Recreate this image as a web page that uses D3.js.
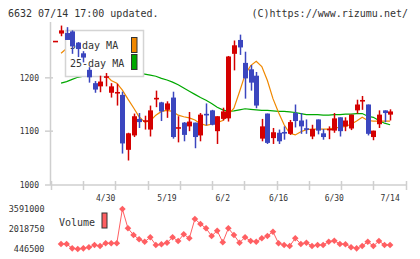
<!DOCTYPE html>
<html>
<head>
<meta charset="utf-8">
<script src="https://cdn.jsdelivr.net/npm/d3@7"></script>
<style>
  body { margin: 0; background: #fff; }
  svg { display: block; font-family: "DejaVu Sans Mono", monospace; }
</style>
</head>
<body>
<div id="chart"></div>
<script>
// trading days, first one is the cut-off doji at the left edge
const dates = ["4/16","4/17","4/18","4/21","4/22","4/23","4/24","4/25","4/28","4/30",
  "5/1","5/2","5/7","5/8","5/9","5/12","5/13","5/14","5/15","5/16",
  "5/19","5/20","5/21","5/22","5/23","5/26","5/27","5/28","5/29","5/30",
  "6/2","6/3","6/4","6/5","6/6","6/9","6/10","6/11","6/12","6/13",
  "6/16","6/17","6/18","6/19","6/20","6/23","6/24","6/25","6/26","6/27",
  "6/30","7/1","7/2","7/3","7/4","7/7","7/8","7/9","7/10","7/11","7/14"];
const open = [1268,1283,1284,1287,1266,1246,1215,1190,1184,1200,1172,1171,1168,1065,1092,1123,1118,1103,1160,1154,
  1140,1163,1105,1116,1109,1116,1092,1131,1139,1100,1123,1124,1245,1271,1228,1216,1204,1086,1133,1087,
  1097,1097,1095,1134,1120,1104,1090,1122,1096,1102,1101,1126,1109,1105,1139,1156,1150,1089,1113,1139,1131];
const high = [1268,1298,1295,1289,1267,1250,1220,1194,1204,1209,1190,1189,1174,1097,1133,1134,1129,1148,1176,1155,
  1156,1174,1128,1117,1136,1116,1134,1152,1140,1128,1144,1241,1270,1281,1249,1224,1211,1123,1133,1106,
  1103,1109,1121,1150,1134,1122,1112,1122,1104,1109,1134,1126,1126,1131,1159,1166,1150,1101,1139,1139,1141];
const low = [1268,1278,1271,1245,1239,1229,1191,1172,1173,1184,1163,1148,1058,1045,1089,1106,1103,1090,1145,1119,
  1125,1086,1079,1081,1100,1068,1081,1111,1111,1076,1120,1118,1214,1243,1161,1176,1143,1081,1076,1076,
  1076,1084,1093,1107,1095,1095,1085,1094,1084,1085,1097,1090,1100,1102,1133,1140,1092,1083,1106,1117,1120];
const close = [1268,1289,1271,1259,1254,1238,1201,1178,1193,1203,1184,1172,1077,1096,1128,1117,1119,1139,1161,1137,
  1152,1089,1106,1093,1118,1089,1131,1130,1112,1128,1137,1240,1261,1257,1199,1191,1148,1109,1078,1098,
  1081,1096,1117,1119,1109,1103,1104,1101,1089,1103,1124,1100,1120,1131,1150,1157,1095,1101,1131,1134,1137];
const ma5 = [null,1246,1255,1264,1266,1262,1246,1230,1216,1206,1195,1190,1177,1160,1144,1127,1117,1119,1130,1137,
  1139,1137,1130,1127,1125,1121,1114,1111,1113,1116,1120,1131,1143,1174,1206,1223,1231,1221,1195,1161,
  1135,1112,1096,1093,1099,1103,1104,1104,1104,1104,1106,1107,1109,1113,1119,1126,1120,1119,1119,1119,1119];
const ma25 = [null,1190,1193,1197,1201,1203,1203,1204,1205,1206,1207,1208,1209,1209,1209,1209,1207,1205,1203,1199,
  1196,1192,1187,1181,1175,1169,1163,1158,1152,1145,1140,1137,1138,1140,1142,1141,1140,1139,1139,1138,
  1137,1137,1136,1135,1133,1131,1131,1131,1130,1130,1131,1131,1132,1132,1133,1133,1128,1126,1120,1115,1112];
// volume in thousands of shares
const volume = [null,840,840,500,446.5,500,580,760,680,895,895,895,3591,2074,1547,1209,1020,1366,760,816,
  942,1366,1075,1602,1288,2805,2412,2074,1468,1885,973,2074,1547,942,1366,1075,1020,1288,1468,1806,
  895,760,680,1288,840,942,680,760,760,1020,1099,840,816,580,500,680,1020,680,1075,760,760];
const priceTicks = [1000, 1100, 1200];
const volTicks = [446500, 2018750, 3591000];
const dateLabels = ["4/30","5/19","6/2","6/16","6/30","7/14"];

const W = 420, H = 259;
const svg = d3.select("#chart").append("svg").attr("width", W).attr("height", H);
const grey = "#cfcfcf", ink = "#333";
const upCol = "#d40000", downCol = "#3b46bf";

const data = dates.map((d, i) => ({ i, d, o: open[i], h: high[i], l: low[i], c: close[i],
  m5: ma5[i], m25: ma25[i], v: volume[i] }));

// header
svg.append("text").attr("x", 8).attr("y", 17).attr("font-size", 10).attr("fill", ink)
  .text("6632 07/14 17:00 updated.");
svg.append("text").attr("x", 408).attr("y", 17).attr("font-size", 10).attr("fill", ink)
  .attr("text-anchor", "end").text("(C)https://www.rizumu.net/");

// scales
const x = d3.scaleLinear().domain([-0.8, 62.8]).range([51, 405.7]);
const y = d3.scaleLinear().domain([1000, 1300]).range([184.5, 24.5]);
const yv = d3.scaleLinear().domain([446500, 3591000]).range([249, 209]);

// axes (light grey frame + ticks)
svg.append("line").attr("x1", 50.5).attr("x2", 50.5).attr("y1", 22).attr("y2", 185)
  .attr("stroke", grey).attr("stroke-width", 1.5);
svg.append("line").attr("x1", 45).attr("x2", 406).attr("y1", 185).attr("y2", 185)
  .attr("stroke", grey).attr("stroke-width", 1.5);
const xTickPos = d3.range(12).map(k => 51 + k * (405.7 - 51) / 11);
svg.append("g").selectAll("line").data(xTickPos).join("line")
  .attr("x1", d => Math.round(d) + 0.5).attr("x2", d => Math.round(d) + 0.5)
  .attr("y1", 181).attr("y2", 190).attr("stroke", grey).attr("stroke-width", 1.5);
svg.append("g").selectAll("line").data(priceTicks.slice(1)).join("line")
  .attr("x1", 45).attr("x2", 53).attr("y1", d => y(d)).attr("y2", d => y(d))
  .attr("stroke", grey).attr("stroke-width", 1.5);
svg.append("g").selectAll("text").data(priceTicks).join("text")
  .attr("x", 39).attr("y", d => y(d) + 3).attr("text-anchor", "end")
  .attr("font-size", 8).attr("fill", ink).text(d => d);

// date labels
svg.append("g").selectAll("text").data(dateLabels).join("text")
  .attr("x", d => x(dates.indexOf(d))).attr("y", 201).attr("text-anchor", "middle")
  .attr("font-size", 8).attr("fill", ink).text(d => d);

// moving averages
const maLine = key => d3.line().defined(d => d[key] != null).x(d => x(d.i)).y(d => y(d[key]));
svg.append("path").datum(data).attr("fill", "none").attr("stroke", "#00a800")
  .attr("stroke-width", 1.2).attr("d", maLine("m25"));
svg.append("path").datum(data).attr("fill", "none").attr("stroke", "#f08800")
  .attr("stroke-width", 1.2).attr("d", maLine("m5"));

// legend box (covers the lines, candles go on top of it)
const lg = svg.append("g");
lg.append("rect").attr("x", 65.5).attr("y", 30.5).attr("width", 78).attr("height", 46)
  .attr("fill", "#fff").attr("stroke", "#d4d4d4").attr("stroke-width", 1.5);
lg.append("text").attr("x", 70).attr("y", 49).attr("font-size", 10).attr("fill", ink).text("5-day MA");
lg.append("text").attr("x", 70).attr("y", 67).attr("font-size", 10).attr("fill", ink).text("25-day MA");
lg.append("rect").attr("x", 131.5).attr("y", 37.5).attr("width", 5.5).attr("height", 15)
  .attr("fill", "#f08800").attr("stroke", ink);
lg.append("rect").attr("x", 131.5).attr("y", 54.5).attr("width", 5.5).attr("height", 15)
  .attr("fill", "#00a800").attr("stroke", ink);

// candles
const cg = svg.append("g").selectAll("g").data(data).join("g")
  .attr("fill", d => d.c >= d.o ? upCol : downCol).attr("stroke", d => d.c >= d.o ? upCol : downCol);
cg.append("line").attr("x1", d => Math.round(x(d.i)) + 0.5).attr("x2", d => Math.round(x(d.i)) + 0.5)
  .attr("y1", d => y(d.h)).attr("y2", d => y(d.l)).attr("stroke-width", 1.5);
cg.append("rect").attr("stroke", "none")
  .attr("x", d => Math.round(x(d.i)) - 2).attr("width", 5)
  .attr("y", d => y(Math.max(d.o, d.c)) - (Math.abs(d.o - d.c) < 2 ? 0.8 : 0))
  .attr("height", d => Math.max(Math.abs(y(d.o) - y(d.c)), 1.6));

// volume
const vdata = data.filter(d => d.v != null);
const volCol = "#ff5f62";
svg.append("path").datum(vdata).attr("fill", "none").attr("stroke", volCol).attr("stroke-width", 1)
  .attr("d", d3.line().x(d => x(d.i)).y(d => yv(d.v * 1000)));
svg.append("g").selectAll("path").data(vdata).join("path")
  .attr("d", d3.symbol(d3.symbolSquare, 22))
  .attr("transform", d => `translate(${x(d.i)},${yv(d.v * 1000)}) rotate(45)`)
  .attr("fill", volCol);
svg.append("g").selectAll("text").data(volTicks).join("text")
  .attr("x", 44.5).attr("y", d => yv(d) + 3).attr("text-anchor", "end")
  .attr("font-size", 8.5).attr("fill", ink).text(d => d);
svg.append("text").attr("x", 59).attr("y", 226).attr("font-size", 10).attr("fill", ink).text("Volume");
svg.append("rect").attr("x", 102).attr("y", 213).attr("width", 5).attr("height", 15)
  .attr("fill", volCol).attr("stroke", ink);
</script>
</body>
</html>
